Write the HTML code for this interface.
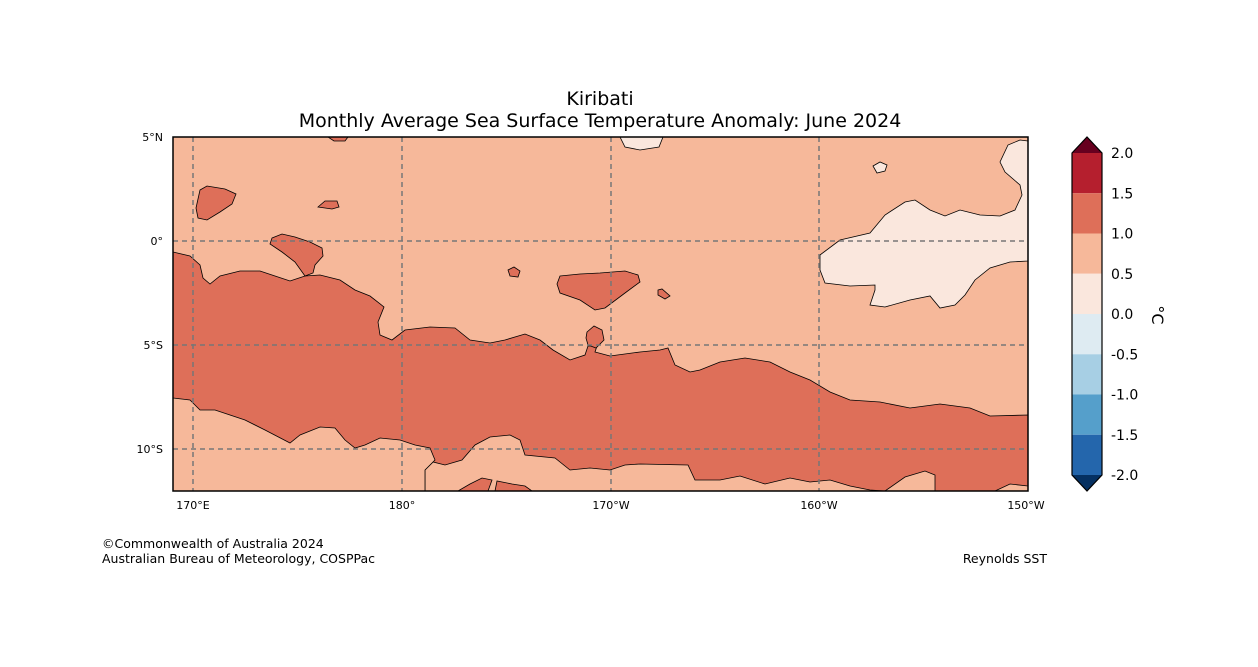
<!DOCTYPE html>
<html><head><meta charset="utf-8"><style>
body{margin:0;background:#fff;}
svg{display:block;font-family:"DejaVu Sans","Liberation Sans",sans-serif;}
</style></head><body>
<svg id="chart" width="1258" height="667" viewBox="0 0 1258 667">
<text x="600" y="105" font-size="19" text-anchor="middle">Kiribati</text>
<text x="600" y="127" font-size="19" text-anchor="middle">Monthly Average Sea Surface Temperature Anomaly: June 2024</text>
<defs><clipPath id="mapclip"><rect x="173" y="137" width="855" height="354"/></clipPath></defs>
<g clip-path="url(#mapclip)">
<rect x="173" y="137" width="855" height="354" fill="#f6b89a"/>
<path fill="#de6f59" stroke="#000" stroke-width="0.8" d="M173,252 L190,256 L200,265 L203,278 L210,284 L220,276 L240,271 L260,271 L275,276 L290,281 L305,276 L320,275 L340,280 L355,290 L370,296 L384,307 L378,322 L380,335 L392,340 L405,330 L430,327 L455,328 L470,340 L490,343 L505,340 L525,334 L540,340 L553,350 L570,360 L585,355 L588,346 L597,346 L595,352 L610,356 L640,352 L660,350 L668,348 L675,365 L690,372 L700,370 L720,362 L745,358 L770,362 L790,372 L810,380 L830,392 L850,400 L880,402 L910,408 L940,404 L970,408 L990,416 L1028,415 L1028,486 L1010,484 L995,491 L935,491 L935,475 L925,471 L905,477 L885,491 L870,490 L850,486 L830,480 L810,482 L790,478 L765,484 L740,476 L720,480 L695,480 L688,465 L640,464 L625,465 L610,470 L590,468 L570,470 L555,458 L525,455 L520,440 L510,435 L490,437 L475,445 L462,460 L445,465 L433,462 L425,470 L425,491 L173,491 Z"/>
<path fill="#f6b89a" stroke="#000" stroke-width="0.8" d="M173,398 L190,400 L200,410 L215,410 L230,415 L245,420 L265,430 L290,443 L300,435 L320,427 L335,428 L345,440 L355,448 L365,445 L380,438 L400,440 L415,445 L430,448 L435,460 L425,470 L425,495 L173,495 Z"/>
<path fill="#de6f59" stroke="#000" stroke-width="0.8" d="M458,491 L470,484 L482,478 L492,480 L488,491 Z"/>
<path fill="#de6f59" stroke="#000" stroke-width="0.8" d="M495,491 L497,481 L512,484 L525,486 L532,491 Z"/>
<path fill="#de6f59" stroke="#000" stroke-width="0.8" d="M560,276 L580,274 L600,273 L625,271 L638,275 L640,282 L625,293 L605,308 L595,310 L580,300 L560,293 L557,284 Z"/>
<path fill="#de6f59" stroke="#000" stroke-width="0.8" d="M587,332 L594,326 L602,330 L604,340 L596,348 L588,345 L586,338 Z"/>
<path fill="#de6f59" stroke="#000" stroke-width="0.8" d="M508,270 L514,267 L520,271 L518,277 L510,276 Z"/>
<path fill="#de6f59" stroke="#000" stroke-width="0.8" d="M658,290 L662,289 L670,296 L665,299 L658,295 Z"/>
<path fill="#de6f59" stroke="#000" stroke-width="0.8" d="M200,190 L207,186 L225,189 L236,194 L232,204 L220,212 L207,220 L198,218 L196,208 Z"/>
<path fill="#de6f59" stroke="#000" stroke-width="0.8" d="M318,207 L325,201 L337,201 L339,207 L332,209 Z"/>
<path fill="#de6f59" stroke="#000" stroke-width="0.8" d="M272,238 L282,234 L295,237 L310,242 L322,248 L323,256 L315,265 L313,273 L305,276 L295,262 L282,252 L270,244 Z"/>
<path fill="#de6f59" stroke="#000" stroke-width="0.8" d="M328,137 L348,137 L345,141 L334,141 Z"/>
<path fill="#fae7dd" stroke="#000" stroke-width="0.8" d="M620,137 L663,137 L659,147 L640,150 L625,147 Z"/>
<path fill="#fae7dd" stroke="#000" stroke-width="0.8" d="M873,166 L880,162 L887,165 L885,171 L877,173 Z"/>
<path fill="#fae7dd" stroke="#000" stroke-width="0.8" d="M820,255 L840,240 L870,233 L885,215 L905,202 L915,200 L930,210 L945,216 L960,210 L980,215 L1000,216 L1015,210 L1022,195 L1020,185 L1005,172 L1000,162 L1008,145 L1020,140 L1028,141 L1028,261 L1010,262 L990,268 L975,280 L965,295 L955,305 L940,308 L930,296 L910,300 L885,307 L870,305 L875,290 L875,285 L850,286 L825,283 L820,270 Z"/>
<g stroke="#777" stroke-width="1.5" stroke-dasharray="5,4">
<line x1="193" y1="137" x2="193" y2="491"/><line x1="402" y1="137" x2="402" y2="491"/><line x1="611" y1="137" x2="611" y2="491"/><line x1="819" y1="137" x2="819" y2="491"/>
<line x1="173" y1="241" x2="1028" y2="241"/><line x1="173" y1="345" x2="1028" y2="345"/><line x1="173" y1="449" x2="1028" y2="449"/>
</g>
</g>
<rect x="173" y="137" width="855" height="354" fill="none" stroke="#000" stroke-width="1.5"/>
<g font-size="11" text-anchor="end">
<text x="163" y="141">5°N</text><text x="163" y="245">0°</text><text x="163" y="349">5°S</text><text x="163" y="453">10°S</text>
</g>
<g font-size="11" text-anchor="middle">
<text x="193" y="509">170°E</text><text x="402" y="509">180°</text><text x="611" y="509">170°W</text><text x="819" y="509">160°W</text><text x="1026" y="509">150°W</text>
</g>
<g id="colorbar"></g>
<text x="1152" y="315" font-size="16" text-anchor="middle" transform="rotate(90 1152 315)">°C</text>
<text x="102" y="548" font-size="12.5">©Commonwealth of Australia 2024</text>
<text x="102" y="563" font-size="12.5">Australian Bureau of Meteorology, COSPPac</text>
<text x="1047" y="563" font-size="12.5" text-anchor="end">Reynolds SST</text>
</svg>
<script>
const levels = [2.0, 1.5, 1.0, 0.5, 0.0, -0.5, -1.0, -1.5, -2.0];
const levelLabels = ["2.0","1.5","1.0","0.5","0.0","-0.5","-1.0","-1.5","-2.0"];
const bandColors = ["#b51f2e","#de6f59","#f6b89a","#fae7dd","#deebf2","#a7cfe4","#559fcb","#2466ac"];
const overColor = "#67001f", underColor = "#053061";
(function(){
  const ns="http://www.w3.org/2000/svg", g=document.getElementById('colorbar');
  const x0=1072,w=30,top=153,bot=475;
  const y=v=>top+(levels[0]-v)/(levels[0]-levels[levels.length-1])*(bot-top);
  for(let i=0;i<bandColors.length;i++){
    const r=document.createElementNS(ns,'rect');
    
    
    r.setAttribute('x',x0);r.setAttribute('y',y(levels[i]));r.setAttribute('width',w);
    r.setAttribute('height',y(levels[i+1])-y(levels[i]));r.setAttribute('fill',bandColors[i]);
    g.appendChild(r);
  }
  const t1=document.createElementNS(ns,'polygon');
  
  
  t1.setAttribute('points',`${x0},${top} ${x0+w/2},137 ${x0+w},${top}`);t1.setAttribute('fill',overColor);g.appendChild(t1);
  const t2=document.createElementNS(ns,'polygon');
  
  
  t2.setAttribute('points',`${x0},${bot} ${x0+w/2},491 ${x0+w},${bot}`);t2.setAttribute('fill',underColor);g.appendChild(t2);
  const o=document.createElementNS(ns,'polygon');
  
  
  o.setAttribute('points',`${x0},${top} ${x0+w/2},137 ${x0+w},${top} ${x0+w},${bot} ${x0+w/2},491 ${x0},${bot}`);
  o.setAttribute('fill','none');o.setAttribute('stroke','#000');o.setAttribute('stroke-width','1.2');g.appendChild(o);
  levels.forEach((v,i)=>{
    const t=document.createElementNS(ns,'text');
    
    
    t.setAttribute('x',1111);t.setAttribute('y',y(v)+5);t.setAttribute('font-size','14');
    t.textContent=levelLabels[i];g.appendChild(t);
  });
})();
</script>
</body></html>
